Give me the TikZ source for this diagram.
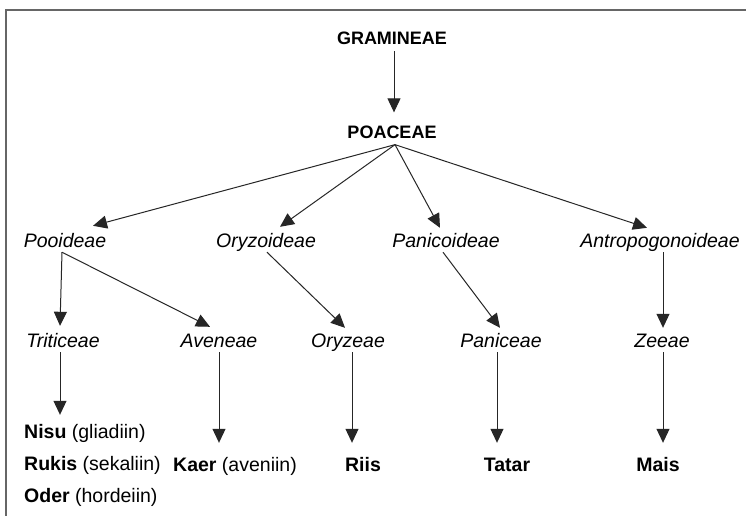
\documentclass[tikz,border=0pt]{standalone}
\usepackage{fontspec}
\setmainfont{Liberation Sans}
\usetikzlibrary{arrows.meta}
\tikzset{
  toplbl/.style={inner sep=0pt, font=\fontsize{18}{20}\selectfont\bfseries, text height=12.9pt, text depth=0pt},
  taxon/.style={inner sep=0pt, font=\fontsize{19.5}{22}\selectfont\itshape, text height=14pt, text depth=0pt},
  crop/.style={inner sep=0pt, font=\fontsize{19.5}{22}\selectfont, text height=14pt, text depth=0pt},
  arr/.style={draw=black!85, line width=1pt, -{Triangle[length=14pt,width=13pt]}},
  frame/.style={draw=black!60, line width=2pt}
}
\begin{document}
\begin{tikzpicture}[x=1pt,y=-1pt]
\useasboundingbox (0,0) rectangle (746,516);
\fill[white] (0,0) rectangle (746,516);
\draw[frame] (746,10) -- (6,10) -- (6,516);

% top
\node[toplbl] (G) at (392,38.5) {GRAMINEAE};
\node[toplbl] (P) at (392,132) {POACEAE};

% subfamilies
\node[taxon] (Poo) at (65,240) {Pooideae};
\node[taxon] (Ory) at (266,240) {Oryzoideae};
\node[taxon] (Pan) at (446,240) {Panicoideae};
\node[taxon] (Ant) at (660,240) {Antropogonoideae};

% tribes
\node[taxon] (Tri) at (63,340) {Triticeae};
\node[taxon] (Ave) at (219,340) {Aveneae};
\node[taxon] (Oryz) at (348,340) {Oryzeae};
\node[taxon] (Panic) at (501,340) {Paniceae};
\node[taxon] (Zee) at (662,340) {Zeeae};

% crops
\node[crop, anchor=west] (Nisu) at (24,431) {\textbf{Nisu} (gliadiin)};
\node[crop, anchor=west] (Rukis) at (24,463) {\textbf{Rukis} (sekaliin)};
\node[crop, anchor=west] (Oder) at (24,495) {\textbf{Oder} (hordeiin)};
\node[crop, anchor=west] (Kaer) at (173,464) {\textbf{Kaer} (aveniin)};
\node[crop] (Riis) at (363,464) {\textbf{Riis}};
\node[crop] (Tatar) at (507,464) {\textbf{Tatar}};
\node[crop] (Mais) at (658,464) {\textbf{Mais}};

% arrows
\draw[arr] ([shift={(2,6)}]G.south) -- ([shift={(2,-13)}]P.north);

\draw[arr] ([shift={(3,6)}]P.south) -- ([shift={(28,-7)}]Poo.north);
\draw[arr] ([shift={(3,6)}]P.south) -- ([shift={(14,-6)}]Ory.north);
\draw[arr] ([shift={(3,6)}]P.south) -- ([shift={(-6,-5)}]Pan.north);
\draw[arr] ([shift={(3,6)}]P.south) -- ([shift={(-13,-5)}]Ant.north);

\draw[arr] ([shift={(-3,5)}]Poo.south) -- ([shift={(-3,-7)}]Tri.north);
\draw[arr] ([shift={(-3,5)}]Poo.south) -- ([shift={(-9,-6)}]Ave.north);
\draw[arr] ([shift={(1,5)}]Ory.south) -- ([shift={(-3,-5)}]Oryz.north);
\draw[arr] ([shift={(-3,5)}]Pan.south) -- ([shift={(-1,-5)}]Panic.north);
\draw[arr] ([shift={(3,5)}]Ant.south) -- ([shift={(1,-5)}]Zee.north);

\draw[arr] ([shift={(-3,5)}]Tri.south) -- ([shift={(36,-9)}]Nisu.north west);
\draw[arr] ([shift={(0,5)}]Ave.south) -- ([shift={(46,-14)}]Kaer.north west);
\draw[arr] ([shift={(4,5)}]Oryz.south) -- ([shift={(-11,-14)}]Riis.north);
\draw[arr] ([shift={(-4,5)}]Panic.south) -- ([shift={(-10,-14)}]Tatar.north);
\draw[arr] ([shift={(1,5)}]Zee.south) -- ([shift={(5,-14)}]Mais.north);
\end{tikzpicture}
\end{document}
